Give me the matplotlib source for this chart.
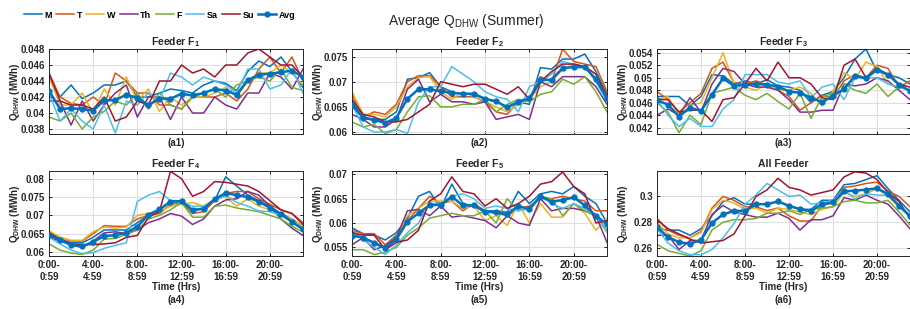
import matplotlib
matplotlib.use("Agg")
import matplotlib.pyplot as plt
import numpy as np

plt.rcParams['font.family'] = ['Liberation Sans', 'DejaVu Sans']
plt.rcParams['mathtext.fontset'] = 'custom'
plt.rcParams['mathtext.rm'] = 'Liberation Sans'
plt.rcParams['mathtext.bf'] = 'Liberation Sans:bold'
plt.rcParams['mathtext.it'] = 'Liberation Sans:italic'

hours = list(range(24))
series_names = ['M', 'T', 'W', 'Th', 'F', 'Sa', 'Su', 'Avg']
colors = ['#0072BD', '#D95319', '#EDB120', '#7E2F8E', '#77AC30', '#4DBEEE', '#A2142F', '#0072BD']
xtick_pos = [0, 4, 8, 12, 16, 20]
xtick_labels = ['0:00-\n0:59', '4:00-\n4:59', '8:00-\n8:59', '12:00-\n12:59', '16:00-\n16:59', '20:00-\n20:59']

# Feeder F1
f1_M  = [0.0445,0.0420,0.0435,0.0418,0.0425,0.0435,0.0435,0.0440,0.0420,0.0420,0.0425,0.0430,0.0428,0.0425,0.0435,0.0440,0.0437,0.0428,0.0452,0.0465,0.0458,0.0470,0.0452,0.0432]
f1_T  = [0.0450,0.0420,0.0412,0.0410,0.0420,0.0410,0.0450,0.0440,0.0425,0.0425,0.0410,0.0410,0.0405,0.0420,0.0420,0.0420,0.0425,0.0415,0.0430,0.0455,0.0470,0.0450,0.0470,0.0440]
f1_W  = [0.0445,0.0410,0.0410,0.0425,0.0400,0.0430,0.0410,0.0445,0.0415,0.0430,0.0402,0.0420,0.0410,0.0420,0.0420,0.0425,0.0432,0.0420,0.0440,0.0450,0.0450,0.0460,0.0450,0.0435]
f1_Th = [0.0415,0.0415,0.0385,0.0415,0.0390,0.0410,0.0425,0.0435,0.0395,0.0420,0.0420,0.0392,0.0420,0.0400,0.0400,0.0420,0.0410,0.0405,0.0425,0.0425,0.0450,0.0445,0.0430,0.0455]
f1_F  = [0.0395,0.0390,0.0400,0.0380,0.0395,0.0402,0.0415,0.0410,0.0425,0.0405,0.0425,0.0410,0.0405,0.0420,0.0425,0.0430,0.0420,0.0435,0.0440,0.0445,0.0440,0.0455,0.0432,0.0428]
f1_Sa = [0.0425,0.0390,0.0405,0.0390,0.0380,0.0410,0.0375,0.0415,0.0410,0.0425,0.0415,0.0450,0.0445,0.0435,0.0445,0.0440,0.0435,0.0425,0.0455,0.0455,0.0430,0.0435,0.0455,0.0425]
f1_Su = [0.0450,0.0415,0.0410,0.0410,0.0405,0.0420,0.0390,0.0395,0.0415,0.0410,0.0440,0.0440,0.0460,0.0450,0.0455,0.0445,0.0460,0.0460,0.0475,0.0480,0.0470,0.0460,0.0460,0.0445]
f1_Avg = [0.0428,0.0405,0.0406,0.0405,0.0403,0.0416,0.0416,0.0423,0.0419,0.0410,0.0418,0.0418,0.0424,0.0422,0.0425,0.0430,0.0428,0.0423,0.0441,0.0448,0.0449,0.0451,0.0453,0.0445]

# Feeder F2
f2_M  = [0.0660,0.0630,0.0625,0.0625,0.0640,0.0705,0.0708,0.0718,0.0690,0.0680,0.0675,0.0675,0.0665,0.0660,0.0650,0.0660,0.0655,0.0728,0.0725,0.0745,0.0745,0.0755,0.0720,0.0675]
f2_T  = [0.0675,0.0630,0.0640,0.0635,0.0655,0.0700,0.0712,0.0712,0.0690,0.0670,0.0670,0.0670,0.0660,0.0640,0.0635,0.0660,0.0665,0.0710,0.0700,0.0765,0.0740,0.0735,0.0730,0.0680]
f2_W  = [0.0680,0.0635,0.0635,0.0630,0.0650,0.0690,0.0708,0.0710,0.0680,0.0665,0.0680,0.0670,0.0660,0.0650,0.0640,0.0655,0.0665,0.0690,0.0700,0.0725,0.0735,0.0730,0.0715,0.0670]
f2_Th = [0.0635,0.0625,0.0610,0.0610,0.0625,0.0685,0.0705,0.0660,0.0675,0.0660,0.0660,0.0655,0.0660,0.0625,0.0630,0.0635,0.0625,0.0700,0.0690,0.0710,0.0710,0.0710,0.0690,0.0655]
f2_F  = [0.0620,0.0610,0.0615,0.0597,0.0605,0.0640,0.0670,0.0672,0.0650,0.0650,0.0655,0.0655,0.0665,0.0640,0.0655,0.0665,0.0660,0.0675,0.0680,0.0705,0.0695,0.0710,0.0680,0.0640]
f2_Sa = [0.0655,0.0610,0.0600,0.0600,0.0605,0.0597,0.0660,0.0690,0.0690,0.0730,0.0715,0.0700,0.0680,0.0670,0.0665,0.0640,0.0690,0.0700,0.0715,0.0740,0.0735,0.0730,0.0700,0.0660]
f2_Su = [0.0665,0.0635,0.0630,0.0620,0.0620,0.0625,0.0640,0.0655,0.0700,0.0695,0.0690,0.0695,0.0695,0.0685,0.0675,0.0690,0.0665,0.0700,0.0720,0.0735,0.0735,0.0730,0.0715,0.0670]
f2_Avg = [0.0654,0.0628,0.0624,0.0618,0.0628,0.0666,0.0685,0.0685,0.0681,0.0678,0.0676,0.0676,0.0666,0.0661,0.0649,0.0660,0.0667,0.0703,0.0704,0.0727,0.0729,0.0729,0.0705,0.0667]

# Feeder F3
f3_M  = [0.0470,0.0470,0.0470,0.0455,0.0470,0.0505,0.0503,0.0490,0.0495,0.0490,0.0497,0.0487,0.0485,0.0480,0.0460,0.0472,0.0478,0.0500,0.0530,0.0546,0.0510,0.0505,0.0500,0.0490]
f3_T  = [0.0478,0.0465,0.0445,0.0460,0.0475,0.0515,0.0525,0.0492,0.0490,0.0495,0.0488,0.0480,0.0470,0.0448,0.0460,0.0472,0.0468,0.0495,0.0505,0.0500,0.0520,0.0515,0.0485,0.0495]
f3_W  = [0.0465,0.0470,0.0440,0.0455,0.0460,0.0500,0.0540,0.0490,0.0485,0.0480,0.0490,0.0480,0.0480,0.0485,0.0475,0.0455,0.0478,0.0508,0.0498,0.0525,0.0518,0.0490,0.0485,0.0480]
f3_Th = [0.0440,0.0450,0.0440,0.0468,0.0445,0.0490,0.0515,0.0510,0.0490,0.0485,0.0485,0.0480,0.0465,0.0445,0.0445,0.0448,0.0448,0.0490,0.0487,0.0490,0.0500,0.0495,0.0480,0.0465]
f3_F  = [0.0460,0.0445,0.0412,0.0440,0.0425,0.0475,0.0480,0.0485,0.0472,0.0465,0.0475,0.0462,0.0450,0.0475,0.0435,0.0470,0.0475,0.0490,0.0480,0.0475,0.0490,0.0470,0.0485,0.0480]
f3_Sa = [0.0465,0.0440,0.0422,0.0435,0.0422,0.0422,0.0450,0.0465,0.0505,0.0505,0.0505,0.0493,0.0490,0.0495,0.0468,0.0485,0.0490,0.0465,0.0500,0.0500,0.0500,0.0490,0.0485,0.0480]
f3_Su = [0.0465,0.0465,0.0445,0.0448,0.0448,0.0430,0.0465,0.0468,0.0490,0.0515,0.0495,0.0525,0.0500,0.0500,0.0490,0.0468,0.0465,0.0520,0.0530,0.0500,0.0515,0.0505,0.0490,0.0485]
f3_Avg = [0.0464,0.0457,0.0438,0.0452,0.0447,0.0473,0.0499,0.0487,0.0489,0.0490,0.0489,0.0486,0.0478,0.0476,0.0468,0.0461,0.0471,0.0482,0.0503,0.0499,0.0513,0.0505,0.0489,0.0479]

# Feeder F4
f4_M  = [0.0650,0.0635,0.0625,0.0625,0.0640,0.0660,0.0660,0.0660,0.0680,0.0700,0.0715,0.0740,0.0740,0.0715,0.0720,0.0740,0.0805,0.0780,0.0755,0.0740,0.0725,0.0705,0.0690,0.0670]
f4_T  = [0.0655,0.0640,0.0630,0.0630,0.0650,0.0672,0.0670,0.0670,0.0690,0.0700,0.0705,0.0730,0.0735,0.0705,0.0710,0.0740,0.0760,0.0765,0.0765,0.0745,0.0730,0.0715,0.0705,0.0680]
f4_W  = [0.0658,0.0640,0.0632,0.0632,0.0655,0.0668,0.0665,0.0668,0.0700,0.0705,0.0710,0.0725,0.0730,0.0735,0.0725,0.0745,0.0750,0.0725,0.0745,0.0725,0.0715,0.0700,0.0690,0.0670]
f4_Th = [0.0640,0.0630,0.0620,0.0612,0.0630,0.0652,0.0655,0.0650,0.0660,0.0680,0.0690,0.0705,0.0698,0.0675,0.0690,0.0725,0.0742,0.0745,0.0765,0.0755,0.0725,0.0690,0.0665,0.0645]
f4_F  = [0.0622,0.0605,0.0597,0.0593,0.0605,0.0635,0.0637,0.0648,0.0660,0.0690,0.0700,0.0715,0.0735,0.0695,0.0695,0.0725,0.0728,0.0720,0.0715,0.0710,0.0700,0.0690,0.0670,0.0655]
f4_Sa = [0.0640,0.0622,0.0605,0.0595,0.0598,0.0610,0.0618,0.0625,0.0738,0.0755,0.0765,0.0740,0.0735,0.0725,0.0725,0.0740,0.0755,0.0735,0.0725,0.0712,0.0710,0.0700,0.0685,0.0665]
f4_Su = [0.0652,0.0635,0.0622,0.0620,0.0620,0.0622,0.0625,0.0640,0.0645,0.0695,0.0710,0.0820,0.0800,0.0752,0.0765,0.0792,0.0790,0.0785,0.0780,0.0765,0.0740,0.0715,0.0705,0.0675]
f4_Avg = [0.0646,0.0633,0.0619,0.0615,0.0628,0.0643,0.0646,0.0652,0.0669,0.0702,0.0716,0.0737,0.0739,0.0714,0.0718,0.0744,0.0761,0.0755,0.0750,0.0737,0.0721,0.0703,0.0682,0.0662]

# Feeder F5
f5_M  = [0.0590,0.0578,0.0575,0.0565,0.0580,0.0610,0.0655,0.0665,0.0630,0.0680,0.0640,0.0635,0.0625,0.0625,0.0622,0.0665,0.0640,0.0660,0.0665,0.0660,0.0675,0.0655,0.0640,0.0600]
f5_T  = [0.0585,0.0578,0.0578,0.0555,0.0575,0.0605,0.0630,0.0655,0.0640,0.0645,0.0625,0.0640,0.0625,0.0620,0.0615,0.0630,0.0635,0.0650,0.0650,0.0655,0.0650,0.0645,0.0625,0.0625]
f5_W  = [0.0580,0.0570,0.0560,0.0550,0.0572,0.0615,0.0630,0.0645,0.0645,0.0645,0.0630,0.0635,0.0605,0.0615,0.0595,0.0640,0.0600,0.0640,0.0612,0.0612,0.0640,0.0620,0.0585,0.0610]
f5_Th = [0.0555,0.0570,0.0545,0.0553,0.0570,0.0625,0.0628,0.0615,0.0635,0.0612,0.0615,0.0610,0.0605,0.0590,0.0615,0.0600,0.0595,0.0650,0.0625,0.0630,0.0630,0.0625,0.0615,0.0560]
f5_F  = [0.0545,0.0545,0.0535,0.0540,0.0550,0.0575,0.0590,0.0610,0.0615,0.0620,0.0615,0.0615,0.0625,0.0600,0.0650,0.0625,0.0630,0.0655,0.0650,0.0615,0.0640,0.0625,0.0615,0.0585]
f5_Sa = [0.0585,0.0565,0.0550,0.0535,0.0555,0.0580,0.0600,0.0640,0.0640,0.0655,0.0660,0.0650,0.0630,0.0635,0.0630,0.0625,0.0630,0.0655,0.0640,0.0630,0.0640,0.0630,0.0615,0.0580]
f5_Su = [0.0580,0.0575,0.0575,0.0545,0.0560,0.0565,0.0585,0.0645,0.0660,0.0695,0.0665,0.0660,0.0635,0.0650,0.0630,0.0640,0.0655,0.0680,0.0685,0.0705,0.0675,0.0660,0.0600,0.0605]
f5_Avg = [0.0574,0.0570,0.0559,0.0548,0.0566,0.0603,0.0620,0.0637,0.0637,0.0654,0.0636,0.0636,0.0623,0.0622,0.0618,0.0635,0.0628,0.0655,0.0644,0.0647,0.0653,0.0636,0.0615,0.0597]

# All Feeder
f6_M  = [0.275,0.274,0.274,0.270,0.275,0.285,0.296,0.299,0.294,0.294,0.294,0.296,0.293,0.290,0.290,0.297,0.297,0.309,0.310,0.313,0.316,0.306,0.297,0.288]
f6_T  = [0.283,0.274,0.270,0.268,0.273,0.291,0.300,0.297,0.292,0.292,0.289,0.291,0.285,0.281,0.281,0.293,0.295,0.307,0.308,0.310,0.311,0.304,0.300,0.292]
f6_W  = [0.280,0.271,0.268,0.268,0.272,0.290,0.297,0.295,0.290,0.291,0.287,0.291,0.290,0.288,0.286,0.290,0.292,0.303,0.300,0.302,0.306,0.300,0.292,0.286]
f6_Th = [0.270,0.270,0.259,0.266,0.266,0.286,0.293,0.288,0.286,0.284,0.284,0.287,0.283,0.274,0.282,0.282,0.285,0.299,0.297,0.301,0.297,0.294,0.285,0.275]
f6_F  = [0.263,0.258,0.256,0.254,0.258,0.274,0.280,0.282,0.282,0.283,0.287,0.287,0.289,0.286,0.290,0.291,0.292,0.296,0.297,0.295,0.295,0.297,0.288,0.278]
f6_Sa = [0.275,0.264,0.258,0.255,0.255,0.259,0.268,0.279,0.294,0.301,0.310,0.305,0.300,0.301,0.294,0.295,0.297,0.305,0.298,0.302,0.301,0.301,0.293,0.285]
f6_Su = [0.282,0.275,0.271,0.267,0.264,0.265,0.266,0.271,0.285,0.300,0.305,0.314,0.307,0.305,0.301,0.303,0.305,0.315,0.319,0.318,0.313,0.303,0.296,0.283]
f6_Avg = [0.2762,0.2686,0.2647,0.2634,0.2665,0.2795,0.2861,0.2888,0.2888,0.2940,0.2940,0.2961,0.2927,0.2901,0.2888,0.2940,0.2953,0.3039,0.3044,0.3052,0.3063,0.3018,0.2927,0.2848]

panels = [
    dict(title=r'Feeder F$_{\mathbf{1}}$', tag='(a1)', data=[f1_M, f1_T, f1_W, f1_Th, f1_F, f1_Sa, f1_Su, f1_Avg],
         ylim=(0.03738, 0.0480), yticks=[0.038, 0.040, 0.042, 0.044, 0.046, 0.048], ylabels=['0.038', '0.04', '0.042', '0.044', '0.046', '0.048']),
    dict(title=r'Feeder F$_{\mathbf{2}}$', tag='(a2)', data=[f2_M, f2_T, f2_W, f2_Th, f2_F, f2_Sa, f2_Su, f2_Avg],
         ylim=(0.0596, 0.0765), yticks=[0.06, 0.065, 0.07, 0.075], ylabels=['0.06', '0.065', '0.07', '0.075']),
    dict(title=r'Feeder F$_{\mathbf{3}}$', tag='(a3)', data=[f3_M, f3_T, f3_W, f3_Th, f3_F, f3_Sa, f3_Su, f3_Avg],
         ylim=(0.0410, 0.0546), yticks=[0.042, 0.044, 0.046, 0.048, 0.05, 0.052, 0.054], ylabels=['0.042', '0.044', '0.046', '0.048', '0.05', '0.052', '0.054']),
    dict(title=r'Feeder F$_{\mathbf{4}}$', tag='(a4)', data=[f4_M, f4_T, f4_W, f4_Th, f4_F, f4_Sa, f4_Su, f4_Avg],
         ylim=(0.0589, 0.0821), yticks=[0.06, 0.065, 0.07, 0.075, 0.08], ylabels=['0.06', '0.065', '0.07', '0.075', '0.08']),
    dict(title=r'Feeder F$_{\mathbf{5}}$', tag='(a5)', data=[f5_M, f5_T, f5_W, f5_Th, f5_F, f5_Sa, f5_Su, f5_Avg],
         ylim=(0.0532, 0.0707), yticks=[0.055, 0.06, 0.065, 0.07], ylabels=['0.055', '0.06', '0.065', '0.07']),
    dict(title='All Feeder', tag='(a6)', data=[f6_M, f6_T, f6_W, f6_Th, f6_F, f6_Sa, f6_Su, f6_Avg],
         ylim=(0.2540, 0.3196), yticks=[0.26, 0.28, 0.30], ylabels=['0.26', '0.28', '0.3']),
]

W, H = 910, 309
fig = plt.figure(figsize=(W / 100, H / 100), dpi=100)

lefts = [49, 352, 657]
widths = [254, 255, 253]
tops = [49, 171]
ah = 85

fs = 7
for i, p in enumerate(panels):
    r, c = divmod(i, 3)
    ax = fig.add_axes([lefts[c] / W, 1 - (tops[r] + ah) / H, widths[c] / W, ah / H])
    handles = []
    for k, (name, col, vals) in enumerate(zip(series_names, colors, p['data'])):
        if name == 'Avg':
            h, = ax.plot(hours, vals, color=col, lw=1.8, marker='o', ms=3.5, label=name, zorder=5)
        else:
            h, = ax.plot(hours, vals, color=col, lw=1.1, label=name)
        handles.append(h)
    ax.set_xlim(0, 23)
    ax.set_ylim(*p['ylim'])
    ax.set_yticks(p['yticks'])
    ax.set_yticklabels(p['ylabels'], fontsize=fs, fontweight='bold', color='#262626')
    ax.set_xticks(xtick_pos)
    if r == 1:
        ax.set_xticklabels(xtick_labels, fontsize=fs, fontweight='bold', color='#262626', ha='center')
        ax.text(0.5, -0.37, 'Time (Hrs)', transform=ax.transAxes, ha='center', va='center',
                fontsize=fs, fontweight='bold', color='#262626')
        ax.text(0.5, -0.52, p['tag'], transform=ax.transAxes, ha='center', va='center',
                fontsize=fs, fontweight='bold', color='#262626')
    else:
        ax.set_xticklabels([])
        ax.text(0.5, -0.11, p['tag'], transform=ax.transAxes, ha='center', va='center',
                fontsize=fs, fontweight='bold', color='#262626')
    ax.tick_params(direction='in', length=2.5, width=0.6, top=True, right=True, pad=3)
    ax.grid(True, color='#DFDFDF', lw=0.8)
    ax.set_axisbelow(True)
    for s in ax.spines.values():
        s.set_linewidth(0.7)
        s.set_color('#262626')
    ax.set_title(p['title'], fontsize=7.5, fontweight='bold', color='#262626', pad=3)
    ax.set_ylabel(r'Q$_{\mathbf{DHW}}$ (MWh)', fontsize=fs, fontweight='bold', color='#262626')
    ax.yaxis.set_label_coords(-0.105, 0.5)

fig.legend(handles, series_names, loc='center left', bbox_to_anchor=(0.017, 0.951), ncol=8,
           frameon=False, handlelength=2.0, handletextpad=0.3, columnspacing=0.45,
           prop=dict(weight='bold', size=6.5))
fig.text(0.513, 0.932, r'Average Q$_{\mathrm{DHW}}$ (Summer)', ha='center', va='center', fontsize=10, color='#262626')

fig.savefig('out.png', dpi=100)
